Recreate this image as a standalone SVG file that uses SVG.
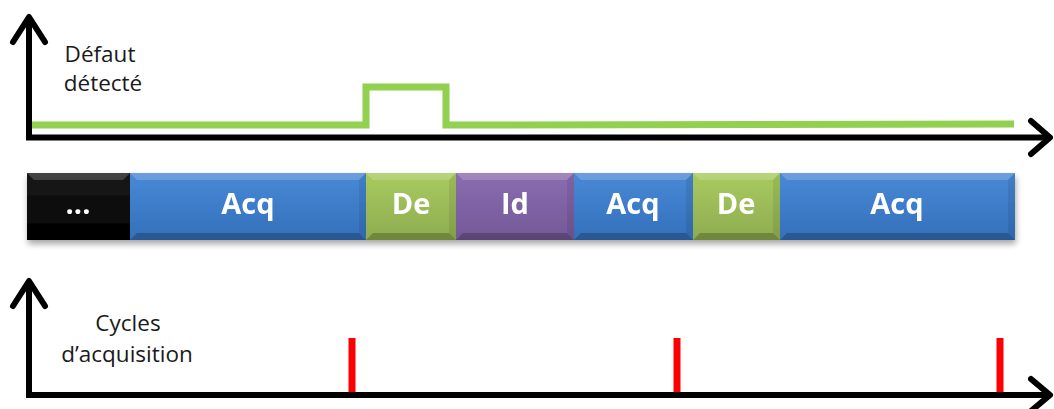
<svg xmlns="http://www.w3.org/2000/svg" width="1054" height="409" viewBox="0 0 1054 409">
<defs>
<linearGradient id="gBlue" x1="0" y1="0" x2="0" y2="1"><stop offset="0" stop-color="#4a89d6"/><stop offset="0.5" stop-color="#3d7cc9"/><stop offset="1" stop-color="#3570ba"/></linearGradient>
<linearGradient id="gGreen" x1="0" y1="0" x2="0" y2="1"><stop offset="0" stop-color="#a8cc5c"/><stop offset="0.5" stop-color="#9bbb59"/><stop offset="1" stop-color="#8eac4e"/></linearGradient>
<linearGradient id="gPurple" x1="0" y1="0" x2="0" y2="1"><stop offset="0" stop-color="#8a6cb0"/><stop offset="0.5" stop-color="#7f62a4"/><stop offset="1" stop-color="#735896"/></linearGradient>
<linearGradient id="gBlack" x1="0" y1="0" x2="0" y2="1"><stop offset="0" stop-color="#1a1a1a"/><stop offset="1" stop-color="#000"/></linearGradient>
<filter id="shadow" x="-5%" y="-30%" width="110%" height="170%"><feGaussianBlur in="SourceAlpha" stdDeviation="3"/><feOffset dx="1" dy="4"/><feComponentTransfer><feFuncA type="linear" slope="0.35"/></feComponentTransfer><feMerge><feMergeNode/><feMergeNode in="SourceGraphic"/></feMerge></filter>
</defs>
<style>
.axis{fill:none;stroke:#000;stroke-width:6;stroke-linecap:square}
.head{fill:none;stroke:#000;stroke-width:6;stroke-linecap:round;stroke-linejoin:round}
.lbl{font-family:"Open Sans","Liberation Sans",sans-serif;font-size:22.5px;fill:#1a1a1a;text-anchor:middle}
.seg{font-family:"Open Sans","Liberation Sans",sans-serif;font-size:29px;font-weight:bold;fill:#fff;text-anchor:middle}
.hi{fill:#fff;opacity:0.18}
.lo{fill:#000;opacity:0.22}
.side{fill:#000;opacity:0.08}
.tick{stroke:#ff0000;stroke-width:7}
</style>
<rect width="1054" height="409" fill="#fff"/>

<g id="top-chart">
<polyline points="28,125 366,125 366,87 446,87 446,125 1014,124" fill="none" stroke="#92d050" stroke-width="7" stroke-linejoin="miter"/>
<path class="axis" d="M29,20 V137.5 H1046"/>
<polyline class="head" points="13,42 29,17 45,42"/>
<polyline class="head" points="1031,121 1050,137.5 1031,154"/>
<text class="lbl" x="100" y="62">Défaut</text>
<text class="lbl" x="103" y="91">détecté</text>
</g>

<g id="timeline" filter="url(#shadow)">
<g id="seg-dots">
<rect x="27" y="173" width="103" height="67" fill="url(#gBlack)"/>
<polygon class="hi" points="27,173 130,173 123,180 34,180"/>
<polygon class="lo" points="27,240 130,240 123,233 34,233"/>
<text class="seg" x="78" y="214">...</text>
</g>
<g id="seg-acq1">
<rect x="130" y="173" width="236" height="67" fill="url(#gBlue)"/>
<polygon class="hi" points="130,173 366,173 359,180 137,180"/>
<polygon class="lo" points="130,240 366,240 359,233 137,233"/>
<polygon class="side" points="359,180 366,173 366,240 359,233"/>
<text class="seg" x="248" y="214">Acq</text>
</g>
<g id="seg-de1">
<rect x="366" y="173" width="90" height="67" fill="url(#gGreen)"/>
<polygon class="hi" points="366,173 456,173 449,180 373,180"/>
<polygon class="lo" points="366,240 456,240 449,233 373,233"/>
<polygon class="side" points="449,180 456,173 456,240 449,233"/>
<text class="seg" x="411" y="214">De</text>
</g>
<g id="seg-id">
<rect x="456" y="173" width="118" height="67" fill="url(#gPurple)"/>
<polygon class="hi" points="456,173 574,173 567,180 463,180"/>
<polygon class="lo" points="456,240 574,240 567,233 463,233"/>
<polygon class="side" points="567,180 574,173 574,240 567,233"/>
<text class="seg" x="515" y="214">Id</text>
</g>
<g id="seg-acq2">
<rect x="574" y="173" width="119" height="67" fill="url(#gBlue)"/>
<polygon class="hi" points="574,173 693,173 686,180 581,180"/>
<polygon class="lo" points="574,240 693,240 686,233 581,233"/>
<polygon class="side" points="686,180 693,173 693,240 686,233"/>
<text class="seg" x="633" y="214">Acq</text>
</g>
<g id="seg-de2">
<rect x="693" y="173" width="87" height="67" fill="url(#gGreen)"/>
<polygon class="hi" points="693,173 780,173 773,180 700,180"/>
<polygon class="lo" points="693,240 780,240 773,233 700,233"/>
<polygon class="side" points="773,180 780,173 780,240 773,233"/>
<text class="seg" x="736" y="214">De</text>
</g>
<g id="seg-acq3">
<rect x="780" y="173" width="235" height="67" fill="url(#gBlue)"/>
<polygon class="hi" points="780,173 1015,173 1008,180 787,180"/>
<polygon class="lo" points="780,240 1015,240 1008,233 787,233"/>
<polygon class="side" points="1008,180 1015,173 1015,240 1008,233"/>
<text class="seg" x="897" y="214">Acq</text>
</g>
</g>

<g id="bottom-chart">
<line class="tick" x1="352" y1="338" x2="352" y2="393"/>
<line class="tick" x1="677" y1="338" x2="677" y2="393"/>
<line class="tick" x1="1000" y1="338" x2="1000" y2="393"/>
<path class="axis" d="M29,284 V395 H1046"/>
<polyline class="head" points="13,306 29,281 45,306"/>
<polyline class="head" points="1031,379 1050,395 1031,411"/>
<text class="lbl" x="128" y="331">Cycles</text>
<text class="lbl" x="127" y="362">d’acquisition</text>
</g>
</svg>
